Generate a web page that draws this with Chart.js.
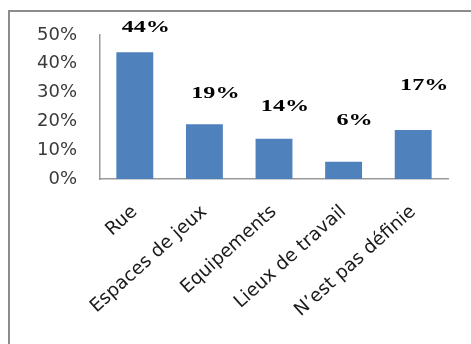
<!DOCTYPE html>
<html>
<head>
<meta charset="utf-8">
<script src="https://cdn.jsdelivr.net/npm/chart.js@4/dist/chart.umd.min.js"></script>
<style>
    html, body { margin: 0; padding: 0; background: #fff; overflow: hidden; }
    #wrap { position: relative; width: 471px; height: 344px; }
    #frame {
        position: absolute; left: 8px; top: 10px; width: 480px; height: 400px;
        border-left: 2px solid #8c8c8c; border-top: 2px solid #8c8c8c;
    }
    canvas { position: absolute; left: 0; top: 0; }
</style>
</head>
<body>
<div id="wrap">
    <div id="frame"></div>
    <canvas id="placesChart" width="471" height="344"></canvas>
</div>
<script>
// Share of responses by place
const places = ['Rue', 'Espaces de jeux', 'Equipements', 'Lieux de travail', 'N\u2019est pas définie'];
const shares = [44, 19, 14, 6, 17];
const yTicks = [0, 10, 20, 30, 40, 50];

// how far each value label sits above its bar (px)
const labelLift = [25, 31, 32, 41, 44];

// bold serif value labels, drawn a bit wide like the original sheet
const valueLabels = {
    id: 'valueLabels',
    afterDatasetsDraw(chart) {
        const ctx = chart.ctx;
        const bars = chart.getDatasetMeta(0).data;
        ctx.save();
        ctx.font = 'bold 17px "Liberation Serif", "Times New Roman", serif';
        ctx.fillStyle = '#000';
        ctx.textAlign = 'center';
        ctx.textBaseline = 'middle';
        bars.forEach((bar, i) => {
            ctx.save();
            ctx.translate(bar.x + 11, bar.y - labelLift[i]);
            ctx.scale(1.42, 1);
            ctx.fillText(shares[i] + '%', 0, 0);
            ctx.restore();
        });
        ctx.restore();
    }
};

const ctx = document.getElementById('placesChart').getContext('2d');
const placesChart = new Chart(ctx, {
    type: 'bar',
    data: {
        labels: places,
        datasets: [{
            data: shares,
            backgroundColor: '#4f81bd',
            borderWidth: 0,
            barPercentage: 0.53,
            categoryPercentage: 1
        }]
    },
    options: {
        responsive: false,
        animation: false,
        layout: { padding: { top: 35, right: 23, left: 0, bottom: 0 } },
        plugins: {
            legend: { display: false },
            tooltip: { enabled: false }
        },
        scales: {
            x: {
                grid: { display: false, drawTicks: false },
                border: { display: true, color: '#9a9a9a', width: 1.5 },
                ticks: {
                    autoSkip: false,
                    minRotation: 42,
                    maxRotation: 42,
                    padding: 22,
                    color: '#1a1a1a',
                    font: { family: '"DejaVu Sans", sans-serif', size: 18.5 }
                },
                afterFit(scale) { scale.height = 165; }
            },
            y: {
                min: 0,
                max: 50,
                afterBuildTicks(scale) { scale.ticks = yTicks.map(v => ({ value: v })); },
                grid: { display: false, drawTicks: false },
                border: { display: true, color: '#9a9a9a', width: 1.5 },
                ticks: {
                    padding: 23,
                    color: '#3a3a3a',
                    font: { family: '"DejaVu Sans", sans-serif', size: 18 },
                    callback: v => v + '%'
                },
                afterFit(scale) { scale.width = 100; }
            }
        }
    },
    plugins: [valueLabels]
});
</script>
</body>
</html>
